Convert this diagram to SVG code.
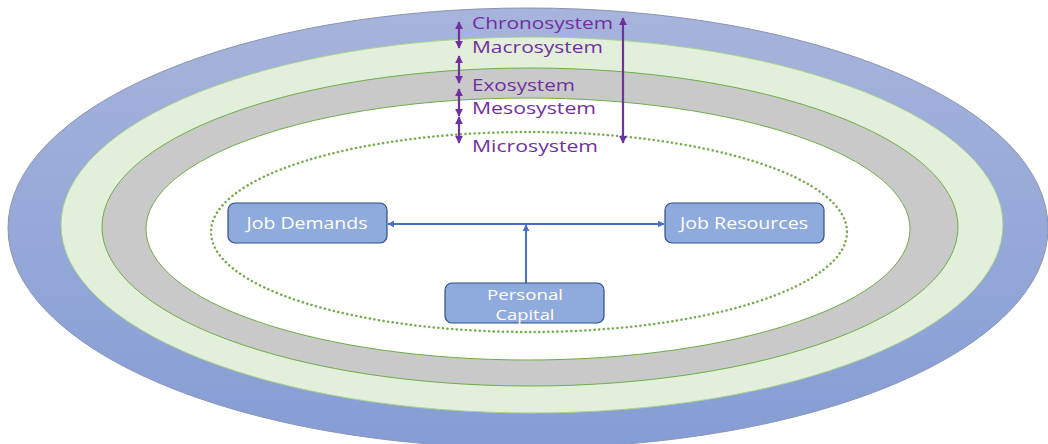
<svg xmlns="http://www.w3.org/2000/svg" width="1048" height="444" viewBox="0 0 1048 444">
<defs>
<linearGradient id="blueGrad" x1="0" y1="0" x2="0" y2="1">
<stop offset="0" stop-color="#a7b4dc"/>
<stop offset="1" stop-color="#859dd5"/>
</linearGradient>
<marker id="ab" viewBox="0 0 10 10" refX="9" refY="5" markerWidth="7" markerHeight="7" orient="auto-start-reverse" markerUnits="userSpaceOnUse"><path d="M0,0 L10,5 L0,10 z" fill="#4472c4"/></marker>
<marker id="ap" viewBox="0 0 10 10" refX="9" refY="5" markerWidth="8" markerHeight="8" orient="auto-start-reverse" markerUnits="userSpaceOnUse"><path d="M0,0 L10,5 L0,10 z" fill="#7030a0"/></marker>
</defs>
<style>
.lbl{font-family:"Open Sans","Liberation Sans",sans-serif;font-size:17px;fill:#7030a0}
.box{fill:#8faadc;stroke:#2f4f7f;stroke-width:1.2}
.bt{font-family:"Open Sans","Liberation Sans",sans-serif;font-size:16px;fill:#ffffff;text-anchor:middle}
.bt2{font-family:"Open Sans","Liberation Sans",sans-serif;font-size:14.5px;fill:#ffffff;text-anchor:middle}
.blue{stroke:#4472c4;stroke-width:2;fill:none}
.pur{stroke:#7030a0;stroke-width:2.2;fill:none;marker-start:url(#ap);marker-end:url(#ap)}
</style>
<rect width="1048" height="444" fill="#ffffff"/>
<g id="chronosystem-ring"><ellipse cx="528" cy="228" rx="520" ry="220" fill="url(#blueGrad)" stroke="#8a94b0" stroke-width="1"/></g>
<g id="macrosystem-ring"><ellipse cx="532" cy="225" rx="471" ry="188" fill="#e2efda" stroke="#a9d18e" stroke-width="1"/></g>
<g id="exosystem-ring"><ellipse cx="530" cy="227" rx="428" ry="159" fill="#c9c9c9" stroke="#70ad47" stroke-width="1"/></g>
<g id="mesosystem-ring"><ellipse cx="528" cy="229" rx="382" ry="131" fill="#ffffff" stroke="#70ad47" stroke-width="1"/></g>
<g id="microsystem-ring"><ellipse cx="529" cy="232" rx="318" ry="100" fill="none" stroke="#70ad47" stroke-width="2.5" stroke-dasharray="0.1 4.5" stroke-linecap="round"/></g>
<g id="labels">
<text class="lbl" x="472" y="29" textLength="141" lengthAdjust="spacingAndGlyphs">Chronosystem</text>
<text class="lbl" x="472" y="53" textLength="131" lengthAdjust="spacingAndGlyphs">Macrosystem</text>
<text class="lbl" x="472" y="91" textLength="103" lengthAdjust="spacingAndGlyphs">Exosystem</text>
<text class="lbl" x="472" y="114" textLength="124" lengthAdjust="spacingAndGlyphs">Mesosystem</text>
<text class="lbl" x="472" y="152" textLength="126" lengthAdjust="spacingAndGlyphs">Microsystem</text>
</g>
<g id="connectors">
<line class="pur" x1="459" y1="22" x2="459" y2="48"/>
<line class="pur" x1="459" y1="56" x2="459" y2="83"/>
<line class="pur" x1="459" y1="89" x2="459" y2="116"/>
<line class="pur" x1="459" y1="117" x2="459" y2="143"/>
<line class="pur" x1="623" y1="18" x2="623" y2="143"/>
<line class="blue" x1="388" y1="224" x2="664" y2="224" marker-start="url(#ab)" marker-end="url(#ab)"/>
<line class="blue" x1="526" y1="283" x2="526" y2="225" marker-end="url(#ab)"/>
</g>
<g id="job-demands"><rect class="box" x="228" y="203" width="159" height="40" rx="7"/><text class="bt" x="307" y="229" textLength="121" lengthAdjust="spacingAndGlyphs">Job Demands</text></g>
<g id="job-resources"><rect class="box" x="665" y="203" width="159" height="40" rx="7"/><text class="bt" x="744" y="229" textLength="128" lengthAdjust="spacingAndGlyphs">Job Resources</text></g>
<g id="personal-capital"><rect class="box" x="445" y="283" width="159" height="40" rx="7"/><text class="bt2" x="525" y="300" textLength="76" lengthAdjust="spacingAndGlyphs">Personal</text><text class="bt2" x="525" y="319.5" textLength="59" lengthAdjust="spacingAndGlyphs">Capital</text></g>
</svg>
